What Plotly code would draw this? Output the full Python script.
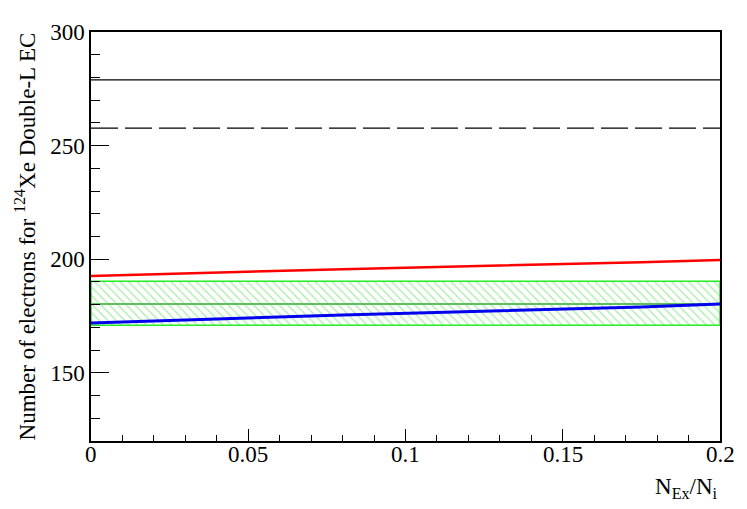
import plotly.graph_objects as go

# readings from the reference
ratio = [0.0, 0.05, 0.08, 0.175, 0.2]
red_vals = [192.6, 194.6, 195.6, 198.7, 199.7]
blue_vals = [171.9, 174.0, 175.5, 179.0, 180.3]

band_low = 170.9
band_mid = 180.3
band_high = 190.3

solid_ref = 278.9
dashed_ref = 257.7

x_range = [0, 0.2]
y_range = [120, 300]
x_ticks = [0, 0.05, 0.1, 0.15, 0.2]
x_ticklabels = ['0', '0.05', '0.1', '0.15', '0.2']
y_ticks = [150, 200, 250, 300]

FONT = "Liberation Serif"

fig = go.Figure()

# hatched green band
fig.add_trace(go.Scatter(
    x=[x_range[0], x_range[1], x_range[1], x_range[0], x_range[0]],
    y=[band_low, band_low, band_high, band_high, band_low],
    mode='lines',
    fill='toself',
    fillcolor='rgba(0,0,0,0)',
    fillpattern=dict(shape='\\', fgcolor='#66dd66', bgcolor='rgba(0,0,0,0)', size=6, solidity=0.25),
    line=dict(color='#22ee22', width=1.5),
    hoverinfo='skip',
    showlegend=False
))

fig.add_trace(go.Scatter(
    x=x_range,
    y=[band_mid, band_mid],
    mode='lines',
    line=dict(color='#5cc05c', width=2),
    showlegend=False
))

fig.add_trace(go.Scatter(
    x=ratio,
    y=blue_vals,
    mode='lines',
    line=dict(color='#0000ee', width=3),
    showlegend=False
))

fig.add_trace(go.Scatter(
    x=ratio,
    y=red_vals,
    mode='lines',
    line=dict(color='#ff0000', width=2.5),
    showlegend=False
))

fig.add_trace(go.Scatter(
    x=x_range,
    y=[solid_ref, solid_ref],
    mode='lines',
    line=dict(color='black', width=1.2),
    showlegend=False
))

fig.add_trace(go.Scatter(
    x=x_range,
    y=[dashed_ref, dashed_ref],
    mode='lines',
    line=dict(color='black', width=1.2, dash='27px,7px'),
    showlegend=False
))

# x tick labels sit closer to the axis than plotly's default with inside ticks
for tv, tl in zip(x_ticks, x_ticklabels):
    fig.add_annotation(
        text=tl, x=tv, xref='x', y=-0.033, yref='paper',
        xanchor='center', yanchor='middle', showarrow=False,
        font=dict(family=FONT, size=23, color='black')
    )

fig.add_annotation(
    text="N<sub>Ex</sub>/N<sub>i</sub>",
    xref='paper', yref='paper',
    x=1.0, y=-0.075,
    xanchor='right', yanchor='top',
    showarrow=False,
    font=dict(family=FONT, size=23, color='black')
)

fig.update_layout(
    width=739,
    height=501,
    margin=dict(l=83, r=27, t=19, b=68),
    plot_bgcolor='white',
    paper_bgcolor='white',
    font=dict(family=FONT, size=23, color='black'),
    xaxis=dict(
        range=x_range,
        tickvals=x_ticks,
        showticklabels=False,
        ticks='inside',
        ticklen=12,
        tickcolor='black',
        minor=dict(dtick=0.01, ticks='inside', ticklen=6, tickcolor='black', showgrid=False),
        showgrid=False,
        zeroline=False,
        showline=True,
        linecolor='black',
        linewidth=1.5,
        mirror=True
    ),
    yaxis=dict(
        range=y_range,
        tickvals=y_ticks,
        tickfont=dict(family=FONT, size=23),
        ticks='inside',
        ticklen=18,
        tickcolor='black',
        minor=dict(dtick=10, ticks='inside', ticklen=9, tickcolor='black', showgrid=False),
        showgrid=False,
        zeroline=False,
        showline=True,
        linecolor='black',
        linewidth=1.5,
        mirror=True,
        title=dict(text="Number of electrons for <sup>124</sup>Xe Double-L EC",
                   font=dict(family=FONT, size=23), standoff=8)
    )
)

fig.write_html("out.html")
